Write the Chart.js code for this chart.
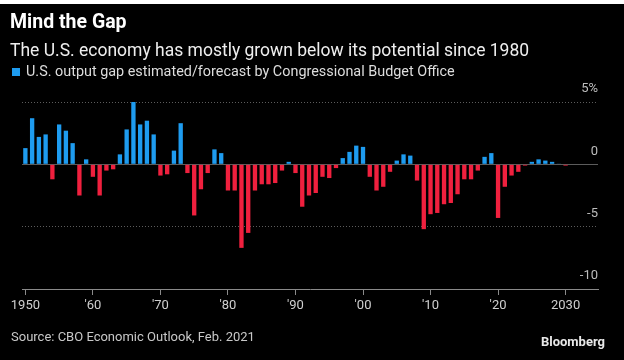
<!DOCTYPE html>
<html>
<head>
<meta charset="utf-8">
<script src="https://cdn.jsdelivr.net/npm/chart.js@4"></script>
<style>
  html, body { margin: 0; padding: 0; background: #fff; }
  #frame { position: absolute; left: 0; top: 0; width: 624px; height: 360px; background: #000; overflow: hidden; font-family: Roboto, "Noto Sans", sans-serif; }
  #topStrip { position: absolute; left: 0; top: 0; width: 624px; height: 4px; background: #fff; }
  #chart { position: absolute; left: 0; top: 0; }
  .txt { position: absolute; white-space: nowrap; line-height: 1; }
  #title { left: 10px; top: 12px; font-size: 19.5px; font-weight: bold; color: #fff; }
  #subtitle { left: 10px; top: 42px; font-size: 17.5px; color: #eee; }
  #legend { left: 12px; top: 65px; font-size: 14.4px; color: #ddd; }
  #legend .box { display: inline-block; width: 8px; height: 8px; background: #1e9cf0; margin-right: 6px; vertical-align: 0px; }
  #source { left: 11px; top: 330px; font-size: 13px; color: #c8c8c8; }
  #brand { right: 19px; top: 335px; font-size: 13px; font-weight: bold; color: #e8e8e8; }
</style>
</head>
<body>
<div id="frame">
  <canvas id="chart" width="624" height="360"></canvas>
  <div id="topStrip"></div>
  <div class="txt" id="title">Mind the Gap</div>
  <div class="txt" id="subtitle">The U.S. economy has mostly grown below its potential since 1980</div>
  <div class="txt" id="legend"><span class="box"></span>U.S. output gap estimated/forecast by Congressional Budget Office</div>
  <div class="txt" id="source">Source: CBO Economic Outlook, Feb. 2021</div>
  <div class="txt" id="brand">Bloomberg</div>
</div>
<script>
// years shown as bars
const years = [
  1950, 1951, 1952, 1953, 1954, 1955, 1956, 1957, 1958, 1959,
  1960, 1961, 1962, 1963, 1964, 1965, 1966, 1967, 1968, 1969,
  1970, 1971, 1972, 1973, 1974, 1975, 1976, 1977, 1978, 1979,
  1980, 1981, 1982, 1983, 1984, 1985, 1986, 1987, 1988, 1989,
  1990, 1991, 1992, 1993, 1994, 1995, 1996, 1997, 1998, 1999,
  2000, 2001, 2002, 2003, 2004, 2005, 2006, 2007, 2008, 2009,
  2010, 2011, 2012, 2013, 2014, 2015, 2016, 2017, 2018, 2019,
  2020, 2021, 2022, 2023, 2024, 2025, 2026, 2027, 2028, 2029,
  2030
];

// output gap, % of potential GDP
const outputGap = [
  1.3, 3.7, 2.2, 2.4, -1.2, 3.2, 2.7, 1.7, -2.5, 0.4,
  -1.0, -2.5, -0.5, -0.4, 0.8, 2.8, 5.0, 3.2, 3.5, 2.4,
  -0.9, -0.8, 1.1, 3.3, -0.7, -4.1, -2.0, -0.7, 1.2, 0.9,
  -2.1, -2.1, -6.7, -5.5, -2.1, -1.6, -1.6, -1.5, -0.5, 0.2,
  -0.7, -3.4, -2.5, -2.3, -1.0, -1.1, -0.3, 0.5, 1.0, 1.5,
  1.4, -1.0, -2.1, -1.8, -0.6, 0.3, 0.8, 0.7, -1.3, -5.2,
  -4.0, -3.9, -3.2, -3.1, -2.4, -1.2, -1.2, -0.5, 0.6, 0.9,
  -4.3, -1.8, -0.9, -0.6, -0.1, 0.2, 0.4, 0.3, 0.2, 0.05,
  -0.1
];

const tickYears = [1950, 1960, 1970, 1980, 1990, 2000, 2010, 2020, 2030];
const tickLabels = ['1950', "'60", "'70", "'80", "'90", "'00", "'10", "'20", '2030'];

const BLUE = '#1e9cf0';
const RED = '#f0203e';
const FONT = 'Roboto, "Noto Sans", sans-serif';

const points = years.map((y, i) => ({ x: y, y: outputGap[i] }));

new Chart(document.getElementById('chart'), {
  type: 'bar',
  data: {
    datasets: [{
      data: points,
      backgroundColor: ctx => (ctx.raw && ctx.raw.y >= 0 ? BLUE : RED),
      borderWidth: 0,
      categoryPercentage: 1,
      barPercentage: 0.64
    }]
  },
  options: {
    responsive: false,
    animation: false,
    layout: { padding: { left: 22, right: 26, top: 102, bottom: 41 } },
    plugins: { legend: { display: false }, tooltip: { enabled: false } },
    scales: {
      x: {
        type: 'linear',
        offset: false,
        min: 1949.5,
        max: 2034.8,
        afterBuildTicks: s => { s.ticks = tickYears.map(v => ({ value: v })); },
        afterFit: s => { s.height = 30; },
        grid: { offset: false, drawOnChartArea: false, drawTicks: true, tickLength: 6, color: '#8a8a8a' },
        border: { display: true, color: '#8a8a8a', width: 1 },
        ticks: {
          autoSkip: false,
          maxRotation: 0,
          padding: 3,
          color: '#cfcfcf',
          font: { family: FONT, size: 13 },
          callback: (v, i) => tickLabels[i]
        }
      },
      y: {
        position: 'right',
        min: -10,
        max: 5,
        afterFit: s => { s.width = 0; },
        grid: {
          drawTicks: false,
          lineWidth: 1,
          color: ctx => (ctx.tick && ctx.tick.value === -10 ? 'rgba(0,0,0,0)' : '#5c5c5c')
        },
        border: {
          display: false,
          dash: ctx => (ctx.tick && ctx.tick.value === 0 ? [] : [1, 2])
        },
        ticks: {
          stepSize: 5,
          mirror: true,
          padding: 0,
          labelOffset: -13,
          color: '#bdbdbd',
          font: { family: FONT, size: 13 },
          callback: v => (v === 5 ? '5%' : String(v))
        }
      }
    }
  }
});
</script>
</body>
</html>
